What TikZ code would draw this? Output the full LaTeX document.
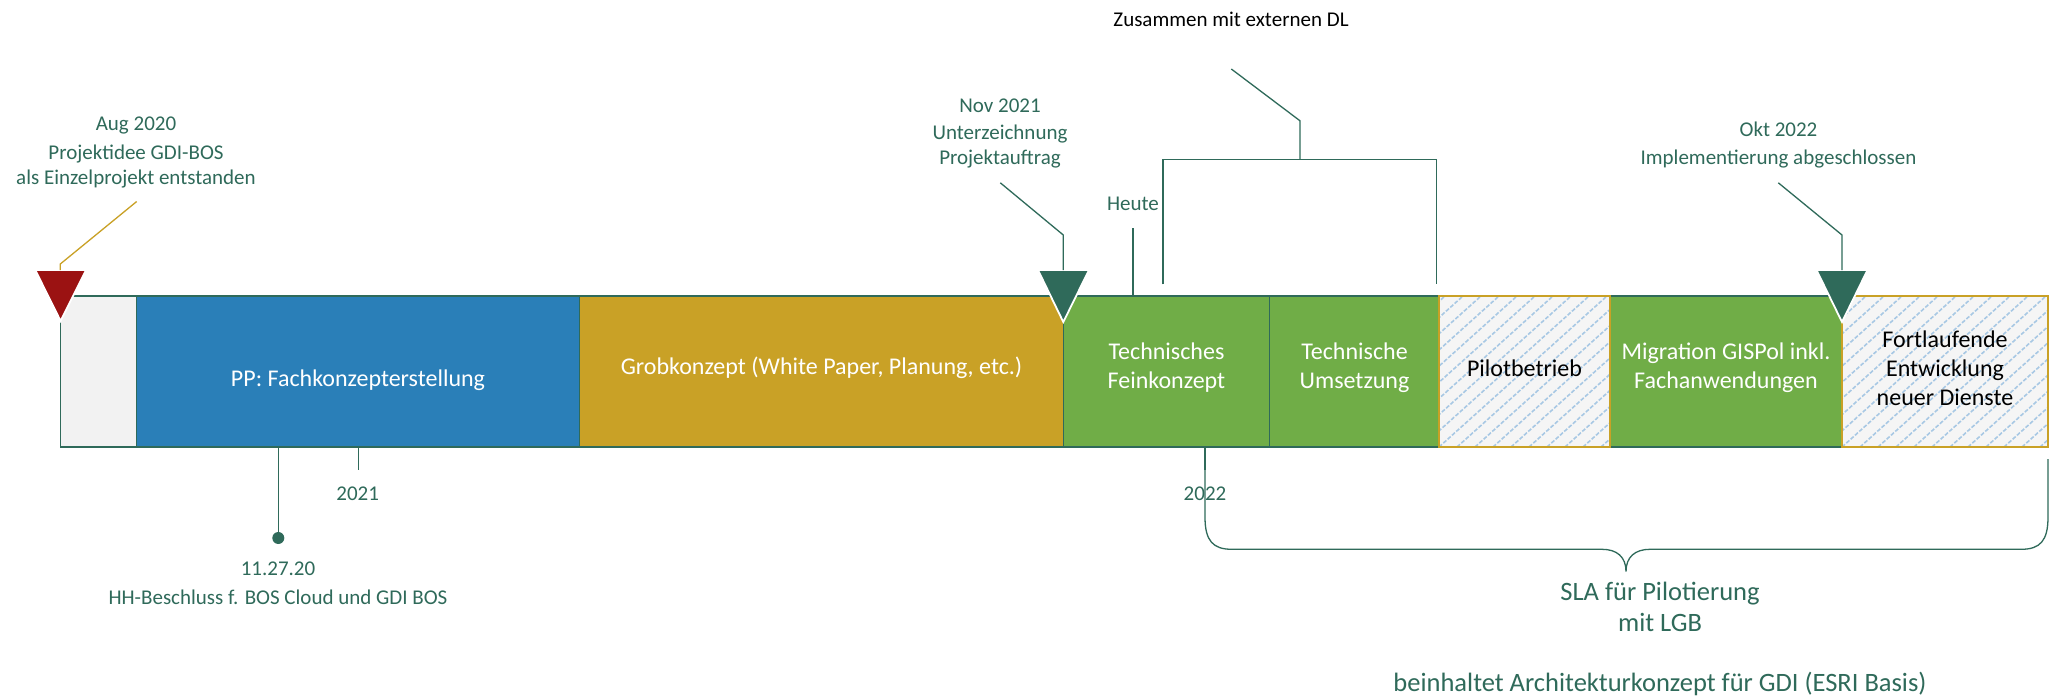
\documentclass[tikz,border=0pt]{standalone}
\usepackage{fontspec}
\setmainfont{Carlito}
\definecolor{tealdark}{RGB}{47,106,90}
\definecolor{barblue}{RGB}{42,127,184}
\definecolor{bargold}{RGB}{201,161,38}
\definecolor{bargreen}{RGB}{112,173,71}
\definecolor{barred}{RGB}{155,18,18}
\definecolor{boxgray}{RGB}{242,242,242}
\definecolor{hatchbg}{RGB}{245,245,245}
\definecolor{hatchblue}{RGB}{168,200,228}
\begin{document}
\begin{tikzpicture}[x=1pt,y=-1pt,
  ann/.style={text=tealdark, font=\fontsize{21}{24.5}\selectfont, align=center, inner sep=0pt},
  lbl/.style={font=\fontsize{24}{29}\selectfont, align=center, inner sep=0pt},
  big/.style={text=tealdark, font=\fontsize{26.5}{30.5}\selectfont, align=center, inner sep=0pt},
  seg/.style={draw=tealdark, line width=1.2pt},
  hseg/.style={draw=bargold, line width=1.2pt, fill=hatchbg},
  lead/.style={draw=tealdark, line width=1.3pt},
  hatchline/.style={draw=hatchblue, line width=1.6pt, dash pattern=on 4pt off 1.8pt},
  marker/.style={draw=white, line width=1.8pt, line join=miter}]
\useasboundingbox[fill=white] (0,0) rectangle (2051,699);

% ---- bar segments ----
\def\yt{296}\def\yb{447}
\path[seg, fill=boxgray]   (60.3,\yt)  rectangle (136.7,\yb);
\path[seg, fill=barblue]   (136.7,\yt) rectangle (579.7,\yb);
\path[seg, fill=bargold]   (579.7,\yt) rectangle (1063.3,\yb);
\path[seg, fill=bargreen]  (1063.3,\yt) rectangle (1269.7,\yb);
\path[seg, fill=bargreen]  (1269.7,\yt) rectangle (1439,\yb);
\path[seg, fill=bargreen]  (1610,\yt) rectangle (1842,\yb);
% hatched segments
\foreach \xa/\xb in {1439/1610, 1842/2048}{
  \path[hseg] (\xa,\yt) rectangle (\xb,\yb);
  \begin{scope}
    \clip (\xa+1,\yt+1) rectangle (\xb-1,\yb-1);
    \foreach \k in {-11,...,13}
      \draw[hatchline] (\xa+\k*18,\yb) -- ++(168,-151);
  \end{scope}
  \path[draw=bargold, line width=1.2pt] (\xa,\yt) rectangle (\xb,\yb);
}

% ---- segment labels ----
\node[lbl, text=white] (pp)   at (358,380)    {PP: Fachkonzepterstellung};
\node[lbl, text=white] (grob) at (821.5,368)  {Grobkonzept (White Paper, Planung, etc.)};
\node[lbl, text=white] (tfk)  at (1166.5,368) {Technisches\\Feinkonzept};
\node[lbl, text=white] (tum)  at (1354.5,368) {Technische\\Umsetzung};
\node[lbl, text=black] (pilot) at (1524.5,368) {Pilotbetrieb};
\node[lbl, text=white] (migr) at (1726,368)   {Migration GISPol inkl.\\Fachanwendungen};
\node[lbl, text=black] (fort) at (1945,368)   {Fortlaufende\\Entwicklung\\neuer Dienste};

% ---- milestone markers ----
\coordinate (m1) at (60.3,270);
\coordinate (m2) at (1063.3,270);
\coordinate (m3) at (1842,270);
\path[marker, fill=barred]   (35.3,270) -- (86,270) -- (60.6,321) -- cycle;
\path[marker, fill=tealdark] (1038,270) -- (1089,270) -- (1063.3,322) -- cycle;
\path[marker, fill=tealdark] (1816.5,270) -- (1867.5,270) -- (1842,322) -- cycle;

% ---- annotations above ----
\node[ann] (aug) at (136,152) {Aug 2020\\[5pt]Projektidee GDI-BOS\\als Einzelprojekt entstanden};
\coordinate (augend) at (136.7,201.5);
\coordinate (augbend) at (60.3,264);
\draw[draw=bargold, line width=1.3pt] (augend) -- (augbend) -- (m1);

\node[ann] (nov) at (1000,133) {Nov 2021\\[3pt]Unterzeichnung\\Projektauftrag};
\coordinate (novend) at (1000.3,182.8);
\coordinate (novbend) at (1063.3,235);
\draw[lead] (novend) -- (novbend) -- (m2);

\node[ann] (okt) at (1778.5,145) {Okt 2022\\[3pt]Implementierung abgeschlossen};
\coordinate (oktend) at (1778.3,182.8);
\coordinate (oktbend) at (1842,235);
\draw[lead] (oktend) -- (oktbend) -- (m3);

\node[ann] (heute) at (1133,204) {Heute};
\coordinate (heuteend) at (1133,228);
\coordinate (heutebar) at (1133,\yt);
\draw[lead] (heuteend) -- (heutebar);

\node[ann, text=black] (zus) at (1231,19) {Zusammen mit externen DL};
\coordinate (zusend) at (1231.3,69);
\coordinate (zusbend) at (1300,120.8);
\coordinate (zusmid) at (1300,159.6);
\coordinate (brl) at (1163,159.6);
\coordinate (brr) at (1436.7,159.6);
\coordinate (brlfoot) at (1163,284.4);
\coordinate (brrfoot) at (1436.7,284.4);
\draw[lead] (zusend) -- (zusbend) -- (zusmid);
\draw[lead] (brlfoot) -- (brl) -- (brr) -- (brrfoot);

% ---- annotations below ----
\coordinate (hhtop) at (278.3,\yb);
\coordinate (hhdot) at (278.3,538);
\draw[lead] (hhtop) -- (hhdot);
\fill[tealdark] (hhdot) circle[radius=6pt];
\node[ann] (hh) at (278,583) {11.27.20\\[4.5pt]HH-Beschluss f. BOS Cloud und GDI BOS};

\coordinate (t21a) at (358.7,\yb);
\coordinate (t21b) at (358.7,470);
\draw[lead] (t21a) -- (t21b);
\node[ann] (y21) at (357.7,494) {2021};

\coordinate (t22a) at (1205,\yb);
\coordinate (t22b) at (1205,470);
\draw[lead] (t22a) -- (t22b);
\node[ann] (y22) at (1205,494) {2022};

% curly brace under the last phases
\coordinate (brcL) at (1205,448);
\coordinate (brcR) at (2048,459);
\coordinate (brcTip) at (1626,571.5);
\draw[lead] (brcL) -- (1205,517) .. controls (1205,541) and (1213,549.3) .. (1232,549.3)
  -- (1602,549.3) .. controls (1617,549.3) and (1626,557) .. (brcTip)
  .. controls (1626,557) and (1635,549.3) .. (1650,549.3)
  -- (2021,549.3) .. controls (2040,549.3) and (2048,541) .. (2048,517) -- (brcR);

\node[big] (sla) at (1660,607) {SLA für Pilotierung\\mit LGB};
\node[big] (esri) at (1660,684) {beinhaltet Architekturkonzept für GDI (ESRI Basis)};
\end{tikzpicture}
\end{document}
